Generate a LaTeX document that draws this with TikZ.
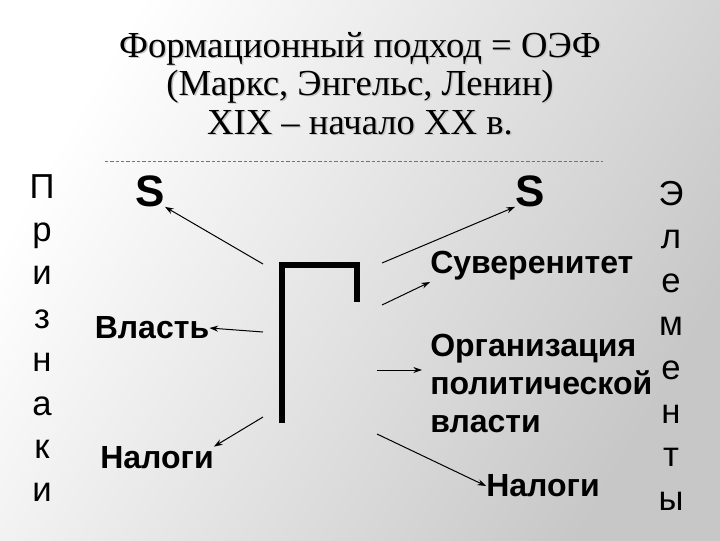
\documentclass[tikz,border=0pt]{standalone}
\usepackage{fontspec}
\setmainfont{Liberation Serif}
\newfontfamily\arialf{Liberation Sans}
\usetikzlibrary{arrows.meta}
\begin{document}
\begin{tikzpicture}[x=0.75pt,y=-0.75pt,
  lbl/.style={font=\arialf\bfseries\fontsize{24}{28}\selectfont, inner sep=0pt},
  vlet/.style={font=\arialf\fontsize{26}{30}\selectfont, inner sep=0pt, anchor=base},
  bigs/.style={font=\arialf\bfseries\fontsize{33}{36}\selectfont, inner sep=0pt},
  arr/.style={-{Stealth[length=6.5pt,width=4.5pt]}, line width=0.75pt},
  ttl/.style={font=\fontsize{27.5}{32}\selectfont, inner sep=0pt, anchor=base},
  ttlsh/.style={ttl, text=black!22}]
\shade[left color=white,right color=black!22,shading angle=60] (0,0) rectangle (720,540);
\useasboundingbox (0,0) rectangle (720,540);
% title
\foreach \t/\yy in {{Формационный подход = ОЭФ}/57,{(Маркс, Энгельс, Ленин)}/95,{XIX – начало XX в.}/134}
  \node[ttlsh] at (361.5,\yy+1.5) {\t};
\node[ttl] (t1) at (360,57) {Формационный подход = ОЭФ};
\node[ttl] (t2) at (360,95) {(Маркс, Энгельс, Ленин)};
\node[ttl] (t3) at (360,134) {XIX – начало XX в.};
\coordinate (dl) at (105,161);
\coordinate (dr) at (603,161);
\draw[black!55, line width=0.6pt, dash pattern=on 2.5pt off 1.5pt] (dl) -- (dr);
% vertical words
\foreach \ch [count=\i from 0] in {П,р,и,з,н,а,к,и}
  \node[vlet] (p\i) at (42,198+43.4*\i) {\ch};
\foreach \ch [count=\i from 0] in {Э,л,е,м,е,н,т,ы}
  \node[vlet] (e\i) at (671,205+43.6*\i) {\ch};
% Г shape
\coordinate (g1) at (282,423);
\coordinate (g2) at (282,265);
\coordinate (g3) at (357,265);
\coordinate (g4) at (357,302);
\draw[line width=4.5pt, line join=miter] (g1) -- (g2) -- (g3) -- (g4);
% left
\node[bigs] (sl) at (150,191) {S};
\node[lbl] (vl) at (152,328) {Власть};
\node[lbl] (nl) at (157,458) {Налоги};
\coordinate (a1) at (263,264);
\coordinate (a2) at (263,332);
\coordinate (a3) at (263,417);
\draw[arr] (a1) -- (sl.south east);
\draw[arr] (a2) -- (vl.east);
\draw[arr] (a3) -- (nl.north east);
% right
\node[bigs] (sr) at (530,191) {S};
\node[lbl, anchor=west] (sv) at (430,266) {Суверенитет};
\node[lbl, anchor=north west, align=left, font=\arialf\bfseries\fontsize{24}{28.5}\selectfont] (org) at (430,334) {Организация\\политической\\власти};
\node[lbl] (nr) at (543,486) {Налоги};
\coordinate (b1) at (382,263);
\coordinate (b2) at (382,305);
\coordinate (b3) at (377,370);
\coordinate (b4) at (377,434);
\draw[arr] (b1) -- (sr.south west);
\draw[arr] (b2) -- (sv.west |- 282,282);
\draw[arr] (b3) -- (422,370);
\draw[arr] (b4) -- (nr.west);
\end{tikzpicture}
\end{document}
